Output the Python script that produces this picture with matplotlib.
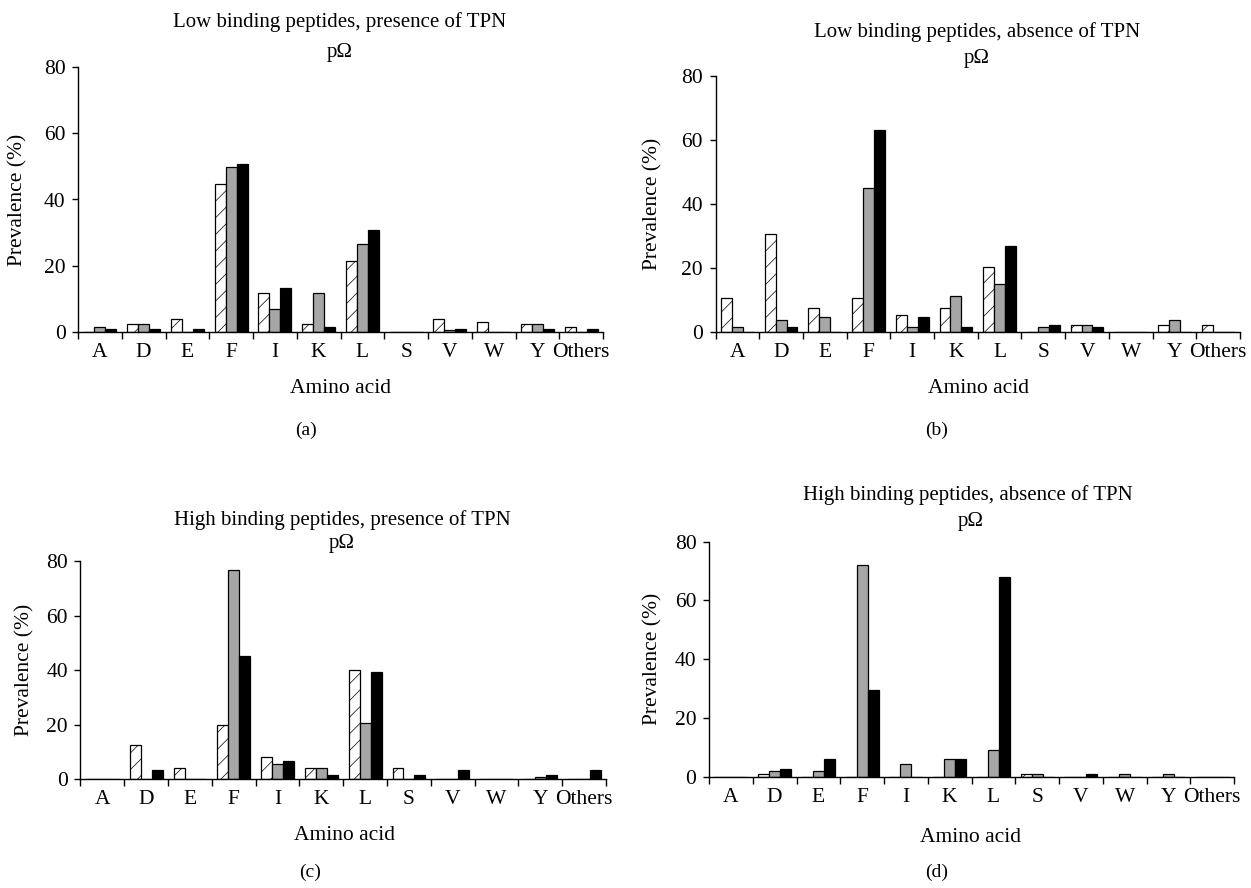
"""
Prevalence of amino acids at peptide position pOmega, four panels.
"""

import numpy as np
import matplotlib
matplotlib.use("Agg")
import matplotlib.pyplot as plt
from matplotlib.ticker import FixedLocator, NullFormatter

plt.rcParams['font.family'] = ['Liberation Serif', 'DejaVu Serif']
plt.rcParams['hatch.linewidth'] = 0.5

W, H = 1251, 888

amino_acids = ["A", "D", "E", "F", "I", "K", "L", "S", "V", "W", "Y", "Others"]

# (a) Low binding peptides, presence of TPN
a_hatched = [0, 2.2, 3.7, 44.8, 11.8, 2.2, 21.3, 0, 3.7, 2.9, 2.2, 1.5]
a_gray = [1.5, 2.2, 0, 49.8, 6.8, 11.8, 26.4, 0, 0.6, 0, 2.2, 0]
a_black = [0.8, 0.8, 0.8, 50.6, 13.3, 1.5, 30.9, 0, 0.8, 0, 0.8, 0.8]

# (b) Low binding peptides, absence of TPN
b_hatched = [10.4, 30.6, 7.5, 10.4, 5.2, 7.5, 20.1, 0, 2.2, 0, 2.2, 2.2]
b_gray = [1.5, 3.7, 4.5, 44.8, 1.5, 11.2, 14.9, 1.5, 2.2, 0, 3.7, 0]
b_black = [0, 1.5, 0, 62.9, 4.5, 1.5, 26.9, 2.2, 1.5, 0, 0, 0]

# (c) High binding peptides, presence of TPN
c_hatched = [0, 12.5, 4.2, 20.0, 8.3, 4.2, 40.0, 4.2, 0, 0, 0, 0]
c_gray = [0, 0, 0, 76.8, 5.6, 4.0, 20.8, 0, 0, 0, 0.8, 0]
c_black = [0, 3.3, 0, 45.2, 6.6, 1.6, 39.3, 1.6, 3.3, 0, 1.6, 3.3]

# (d) High binding peptides, absence of TPN
d_hatched = [0, 1.0, 0, 0, 0, 0, 0, 0.9, 0, 0, 0, 0]
d_gray = [0, 1.8, 1.8, 72.0, 4.3, 5.9, 9.1, 0.9, 0, 0.9, 0.9, 0]
d_black = [0, 2.7, 5.9, 29.6, 0, 5.9, 68.0, 0, 0.9, 0, 0, 0]


def px(x, y):
    # pixel position (from top-left) -> figure fraction
    return x / W, 1 - y / H


def box(left, right, top, bottom):
    return [left / W, 1 - bottom / H, (right - left) / W, (bottom - top) / H]


# title, tag, data, axes box, title pos, omega pos, xlabel pos, tag pos, ylabel x
panels = [
    ("Low binding peptides, presence of TPN", "(a)", a_hatched, a_gray, a_black,
     box(78, 603, 67.3, 331.7), (340, 21.7), (340, 53), (341, 388), (306, 430), 18),
    ("Low binding peptides, absence of TPN", "(b)", b_hatched, b_gray, b_black,
     box(715.5, 1240, 75.7, 331.7), (977, 31.7), (977, 58), (978, 388), (937, 430), 653),
    ("High binding peptides, presence of TPN", "(c)", c_hatched, c_gray, c_black,
     box(80.5, 606, 561, 779.3), (342, 520), (342, 543), (344, 835), (310, 872), 25),
    ("High binding peptides, absence of TPN", "(d)", d_hatched, d_gray, d_black,
     box(709, 1234, 541.7, 776.7), (968, 495), (971, 521.7), (971, 837), (937, 872), 653),
]

fig = plt.figure(figsize=(W / 100, H / 100), dpi=100)

x = np.arange(len(amino_acids)) + 0.5
w = 0.25

for (title, tag, hatched, gray, black, rect,
     tpos, opos, xlpos, tagpos, ylx) in panels:
    ax = fig.add_axes(rect)
    ax.bar(x - w, hatched, w, color="white", edgecolor="black", hatch="//", linewidth=0.9)
    ax.bar(x, gray, w, color="#a6a6a6", edgecolor="black", linewidth=0.9)
    ax.bar(x + w, black, w, color="black", edgecolor="black", linewidth=0.9)

    ax.set_xlim(0, len(amino_acids))
    ax.set_ylim(0, 80)
    ax.set_yticks([0, 20, 40, 60, 80])
    ax.xaxis.set_major_locator(FixedLocator(np.arange(len(amino_acids) + 1)))
    ax.xaxis.set_major_formatter(NullFormatter())
    ax.xaxis.set_minor_locator(FixedLocator(x))
    ax.set_xticklabels(amino_acids, minor=True)
    ax.tick_params(axis="x", which="major", direction="out", length=5, width=1)
    ax.tick_params(axis="x", which="minor", length=0, pad=8, labelsize=15.5)
    ax.tick_params(axis="y", direction="out", length=4, width=1, pad=5, labelsize=15.5)

    for side in ("top", "right"):
        ax.spines[side].set_visible(False)
    for side in ("left", "bottom"):
        ax.spines[side].set_linewidth(1)

    fig.text(*px(*tpos), title, ha="center", va="center", fontsize=15)
    fig.text(*px(*opos), "p\u03a9", ha="center", va="center", fontsize=15)
    fig.text(*px(*xlpos), "Amino acid", ha="center", va="center", fontsize=15.5)
    fig.text(*px(*tagpos), tag, ha="center", va="center", fontsize=14)
    ycen = 1 - (rect[1] + rect[3] / 2)
    fig.text(*px(ylx, ycen * H), "Prevalence (%)", ha="center", va="center",
             rotation=90, fontsize=15.5)

fig.savefig("out.png", dpi=100, facecolor="white")
